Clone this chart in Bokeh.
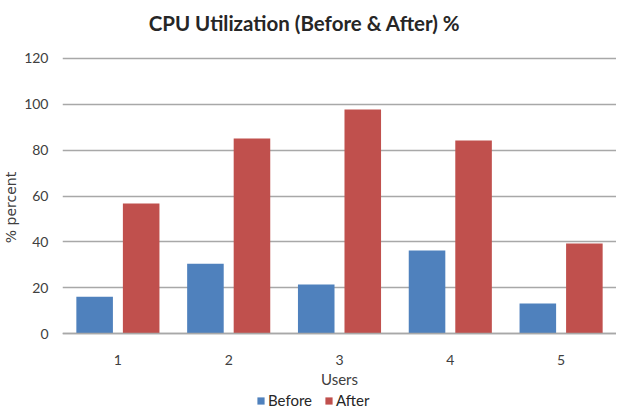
from bokeh.plotting import figure
from bokeh.models import ColumnDataSource, Legend, LegendItem, FactorRange, Range1d, FixedTicker, Label
from bokeh.transform import dodge
from bokeh.embed import file_html
from bokeh.resources import INLINE

users = ["1", "2", "3", "4", "5"]
before = [16.1, 30.5, 21.4, 36.2, 13.1]
after = [56.7, 85.1, 97.7, 84.2, 39.3]
y_ticks = [0, 20, 40, 60, 80, 100, 120]
title_text = "CPU Utilization (Before & After) %"

src = ColumnDataSource(dict(users=users, before=before, after=after))

FONT = "Lato"

# frame spans the whole height (title space above, x labels and legend below);
# the x axis is pinned at value 0 so it takes no side-panel space.
p = figure(frame_width=554, frame_height=414, x_range=FactorRange(*users),
           y_range=Range1d(-35.3, 145.3),
           output_backend="svg", toolbar_location=None,
           min_border_left=60, min_border_right=0, min_border_top=0, min_border_bottom=0)
p.outline_line_color = None

# synthetic x coordinate 2.5 = middle of the five categories
title = Label(x=2.5, y=135.7, text=title_text, text_align="center", text_baseline="middle",
              x_offset=-35, text_font=FONT, text_font_size="20.5px", text_font_style="bold",
              text_color="#262626")
p.add_layout(title, "center")

r1 = p.vbar(x=dodge("users", -0.21, range=p.x_range), top="before", width=0.33, source=src,
            fill_color="#4F81BD", line_color=None)
r2 = p.vbar(x=dodge("users", 0.21, range=p.x_range), top="after", width=0.33, source=src,
            fill_color="#C0504D", line_color=None)

p.xgrid.grid_line_color = None
p.ygrid.grid_line_color = "#a8a8a8"
p.ygrid.grid_line_width = 1.5
p.yaxis.ticker = FixedTicker(ticks=y_ticks)

for ax in (p.xaxis[0], p.yaxis[0]):
    ax.major_tick_line_color = None
    ax.minor_tick_line_color = None
    ax.major_tick_out = 0
    ax.major_tick_in = 0
    ax.major_label_text_font = FONT
    ax.major_label_text_font_size = "14px"
    ax.major_label_text_color = "#404040"
    ax.axis_label_text_font_style = "normal"
    ax.axis_label_text_color = "#404040"

p.yaxis.axis_line_color = None
p.yaxis.major_label_standoff = 14
p.yaxis.axis_label = "% percent"
p.yaxis.axis_label_text_font = "DejaVu Sans"
p.yaxis.axis_label_text_font_size = "14px"
p.yaxis.axis_label_standoff = 2
p.yaxis.bounds = (0, 120)

p.xaxis.fixed_location = 0
p.xaxis.axis_line_color = "#a8a8a8"
p.xaxis.axis_line_width = 1.5
p.xaxis.major_label_standoff = 21
p.xaxis.axis_label = "Users"
p.xaxis.axis_label_text_font = FONT
p.xaxis.axis_label_text_font_size = "15px"
p.xaxis.axis_label_standoff = 2

legend = Legend(items=[LegendItem(label="Before", renderers=[r1]),
                       LegendItem(label="After", renderers=[r2])],
                orientation="horizontal", location=(194, 5),
                label_text_font=FONT, label_text_font_size="15px", label_text_color="#262626",
                glyph_width=9, glyph_height=9, label_height=15, spacing=12, padding=0, margin=0,
                label_standoff=3, border_line_color=None, background_fill_alpha=0)
p.add_layout(legend, "center")

open("out.html", "w").write(file_html(p, INLINE))
